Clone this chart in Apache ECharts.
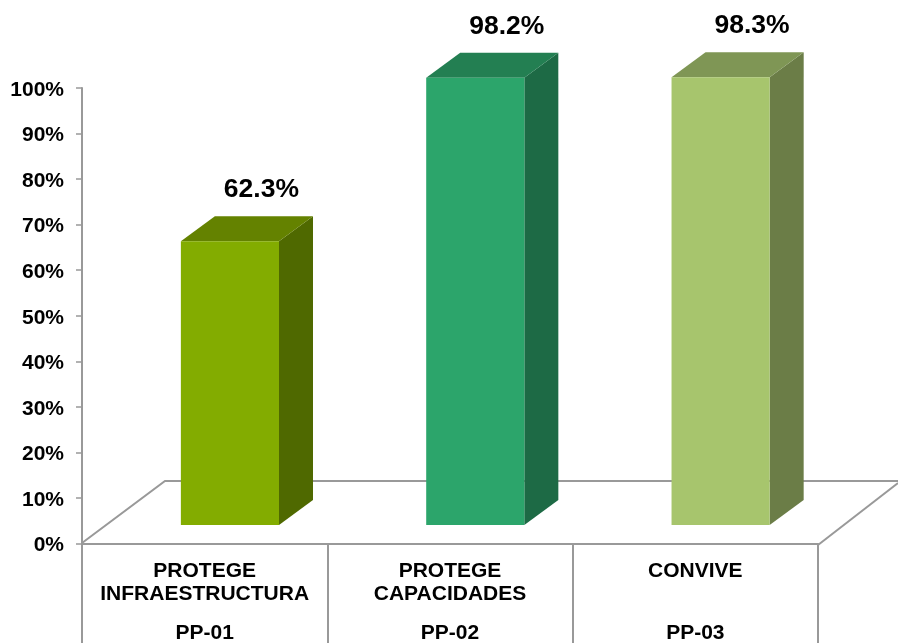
<!DOCTYPE html>
<html><head><meta charset="utf-8">
<style>html,body{margin:0;padding:0;background:#fff}#c{width:898px;height:643px}</style>
<script src="https://cdn.jsdelivr.net/npm/echarts@6/dist/echarts.min.js"></script>
</head><body><div id="c"></div>
<script>
const categories = ['PROTEGE\nINFRAESTRUCTURA', 'PROTEGE\nCAPACIDADES', 'CONVIVE\n '];
const programCodes = ['PP-01', 'PP-02', 'PP-03'];
const values = [62.3, 98.2, 98.3];
const frontColors = ['#83AC00', '#2CA56B', '#A7C56D'];
const sideColors = ['#4F6900', '#1D6A45', '#6B7D47'];
const topColors = ['#648200', '#237F52', '#7F9655'];
const FONT = '"Liberation Sans", Arial, sans-serif';
const gray = '#999999';

const chart = echarts.init(document.getElementById('c'), null, {renderer: 'canvas'});
const labels = categories.map((c, i) => c.split('\n').map(s => '{a|' + s + '}').join('\n') + '\n{g| }\n{a|' + programCodes[i] + '}');

function renderBar(params, api) {
  const i = api.value(0), v = api.value(1);
  const p0 = api.coord([i, 0]), p1 = api.coord([i, v]);
  const band = api.size([1, 0])[0];
  const w = band * 0.4, dx = 34, dy = 25, lift = 18.5, shift = band * 0.103;
  const x0 = p0[0] + shift - w / 2, x1 = x0 + w;
  const yb = p0[1] - lift, yt = p1[1] - lift;
  return {
    type: 'group',
    children: [
      {type: 'polygon', shape: {points: [[x1, yb], [x1 + dx, yb - dy], [x1 + dx, yt - dy], [x1, yt]]}, style: {fill: sideColors[i]}},
      {type: 'polygon', shape: {points: [[x0, yt], [x0 + dx, yt - dy], [x1 + dx, yt - dy], [x1, yt]]}, style: {fill: topColors[i]}},
      {type: 'rect', shape: {x: x0, y: yt, width: w, height: yb - yt}, style: {fill: frontColors[i]}},
      {type: 'text', style: {text: v.toFixed(1) + '%', x: (x0 + x1) / 2 + 31.5, y: yt - 51.5, align: 'center', verticalAlign: 'middle',
        font: 'bold 26.5px ' + FONT, fill: '#000'}}
    ]
  };
}

const lineStyle = {stroke: gray, lineWidth: 2};
chart.setOption({
  animation: false,
  backgroundColor: '#fff',
  grid: {left: 82, right: 80, top: 88, bottom: 99.5, outerBoundsMode: 'none'},
  graphic: [
    {type: 'polyline', z: 0, shape: {points: [[82, 543], [165, 481], [898, 481]]}, style: {fill: null, ...lineStyle}},
    {type: 'line', z: 0, shape: {x1: 818, y1: 545, x2: 898, y2: 483}, style: lineStyle}
  ],
  xAxis: {
    type: 'category', data: labels, boundaryGap: true,
    axisLine: {show: true, lineStyle: {color: gray, width: 2}},
    axisTick: {show: true, length: 100, lineStyle: {color: gray, width: 2}},
    axisLabel: {
      interval: 0, margin: 16, align: 'center', verticalAlign: 'top',
      rich: {
        a: {fontWeight: 'bold', fontSize: 21, fontFamily: FONT, color: '#000', lineHeight: 23, align: 'center'},
        g: {fontSize: 10, lineHeight: 16}
      }
    },
    splitLine: {show: false}
  },
  yAxis: {
    type: 'value', min: 0, max: 100, interval: 10,
    axisLine: {show: true, lineStyle: {color: gray, width: 2}},
    axisTick: {show: true, length: 6, lineStyle: {color: gray, width: 1.5}},
    axisLabel: {formatter: '{value}%', margin: 18, verticalAlign: 'top', lineHeight: 4, fontFamily: FONT, fontWeight: 'bold', fontSize: 21, color: '#000'},
    splitLine: {show: false}
  },
  series: [{
    type: 'custom', coordinateSystem: 'cartesian2d', renderItem: renderBar,
    clip: false, z: 5, encode: {x: 0, y: 1},
    data: values.map((v, i) => [i, v])
  }]
});
</script></body></html>
